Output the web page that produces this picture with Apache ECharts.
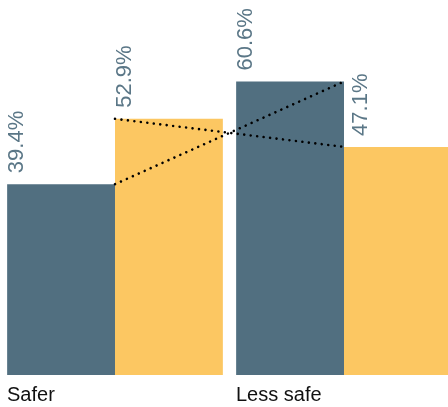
<!DOCTYPE html>
<html>
<head>
<meta charset="utf-8">
<script src="https://cdn.jsdelivr.net/npm/echarts@6/dist/echarts.min.js"></script>
<style>
html,body{margin:0;padding:0;background:#fff;}
#chart{width:448px;height:407px;}
</style>
</head>
<body>
<div id="chart"></div>
<script>
var categories = ['Safer', 'Less safe'];
var seriesA = [39.4, 60.6];
var seriesB = [52.9, 47.1];

var DARK = '#516f80';
var YELLOW = '#fcc762';
var LABEL = '#5b7787';
var FONT = '"Liberation Sans", Arial, Helvetica, sans-serif';

var chart = echarts.init(document.getElementById('chart'), null, {renderer: 'canvas'});

function valueLabel() {
  return {
    show: true,
    position: [-1, -11],
    rotate: 90,
    align: 'left',
    verticalAlign: 'top',
    color: LABEL,
    fontSize: 22,
    fontFamily: FONT,
    formatter: function (p) { return p.value.toFixed(1) + '%'; }
  };
}

chart.setOption({
  animation: false,
  grid: {left: 0.5, right: -10.5, top: 36, bottom: 32, containLabel: false, outerBoundsMode: 'none'},
  xAxis: {
    type: 'category',
    data: categories,
    axisLine: {show: false},
    axisTick: {show: false},
    axisLabel: {
      interval: 0,
      margin: 10,
      align: 'center',
      width: 216,
      overflow: 'none',
      color: '#111',
      fontSize: 20,
      fontFamily: FONT,
      formatter: '{a|{value}}',
      rich: {a: {align: 'left', color: '#111', fontSize: 20, fontFamily: FONT}}
    }
  },
  yAxis: {type: 'value', min: 0, max: 70, show: false, splitLine: {show: false}},
  series: [
    {
      type: 'bar', data: seriesA, barGap: '0%', barCategoryGap: '5.8%',
      itemStyle: {color: DARK}, label: valueLabel(), z: 2
    },
    {
      type: 'bar', data: seriesB, barGap: '0%', barCategoryGap: '5.8%',
      itemStyle: {color: YELLOW}, label: valueLabel(), z: 2,
      labelLayout: function (p) { return p.dataIndex === 1 ? {dy: 7} : {}; }
    },
    {
      type: 'line', data: seriesA, symbol: 'none', z: 5,
      lineStyle: {color: '#000', width: 2.6, type: [0.01, 6.5], cap: 'round'}
    },
    {
      type: 'line', data: seriesB, symbol: 'none', z: 5,
      lineStyle: {color: '#000', width: 2.6, type: [0.01, 6.5], cap: 'round'}
    }
  ]
});
</script>
</body>
</html>
